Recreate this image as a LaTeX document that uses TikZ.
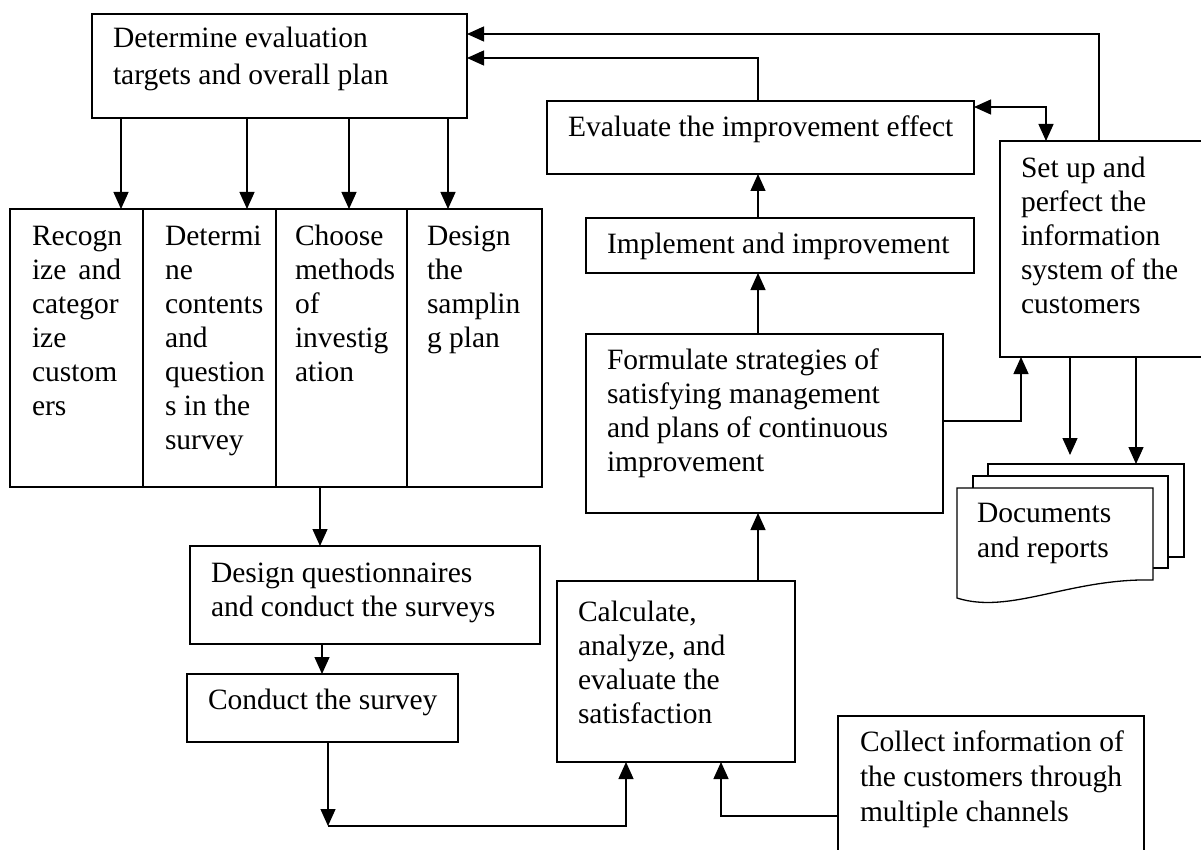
\documentclass[tikz,border=0pt]{standalone}
\usepackage{fontspec}
\setmainfont{Liberation Serif}
\usetikzlibrary{arrows.meta}
\begin{document}
\begin{tikzpicture}[x=1pt,y=-1pt,
  line width=1.3pt,
  box/.style={draw, line width=1.3pt, inner sep=0pt, outer sep=0pt, anchor=north west, fill=white},
  txt/.style={anchor=north west, inner sep=0pt, outer sep=0pt, align=left, font=\fontsize{29.5pt}{34pt}\selectfont},
  arr/.style={-{Triangle[length=17pt,width=15pt]}, line width=1.3pt},
  darr/.style={{Triangle[length=17pt,width=15pt]}-{Triangle[length=17pt,width=15pt]}, line width=1.3pt}]

\fill[white] (0,0) rectangle (1201,850);
\useasboundingbox (0,0) rectangle (1201,850);

% ---- planning stage ----
\node[box, minimum width=375, minimum height=104] (plan) at (92,14) {};
\node[txt, font=\fontsize{29.5pt}{37pt}\selectfont] (plantxt) at (113,22) {\strut Determine evaluation\\targets and overall plan};

\node[box, minimum width=133, minimum height=278] (recog) at (10,209) {};
\node[box, minimum width=133, minimum height=278] (contents) at (143,209) {};
\node[box, minimum width=131, minimum height=278] (choose) at (276,209) {};
\node[box, minimum width=135, minimum height=278] (sampling) at (407,209) {};
\node[txt] (recogtxt) at (32,222) {\strut Recogn\\\makebox[89pt][s]{ize and}\\categor\\ize\\custom\\ers};
\node[txt] (contentstxt) at (165,222) {\strut Determi\\ne\\contents\\and\\question\\s in the\\survey};
\node[txt] (choosetxt) at (295,222) {\strut Choose\\methods\\of\\investig\\ation};
\node[txt] (samplingtxt) at (427,222) {\strut Design\\the\\samplin\\g plan};

% ---- survey stage ----
\node[box, minimum width=350, minimum height=98] (quest) at (190,546) {};
\node[txt] (questtxt) at (211,559) {\strut Design questionnaires\\and conduct the surveys};
\node[box, minimum width=271, minimum height=68] (conduct) at (187,674) {};
\node[txt] (conducttxt) at (208,686) {\strut Conduct the survey};

% ---- analysis and improvement ----
\node[box, minimum width=238, minimum height=181] (calc) at (557,581) {};
\node[txt] (calctxt) at (578,598) {\strut Calculate,\\analyze, and\\evaluate the\\satisfaction};
\node[box, minimum width=306, minimum height=150] (collect) at (838,716) {};
\node[txt, font=\fontsize{29.5pt}{35pt}\selectfont] (collecttxt) at (860,727) {\strut Collect information of\\the customers through\\multiple channels};
\node[box, minimum width=357, minimum height=179] (formul) at (586,334) {};
\node[txt] (formultxt) at (607,346) {\strut Formulate strategies of\\satisfying management\\and plans of continuous\\improvement};
\node[box, minimum width=388, minimum height=55] (impl) at (586,218) {};
\node[txt] (impltxt) at (607,230) {\strut Implement and improvement};
\node[box, minimum width=427, minimum height=73] (eval) at (547,101) {};
\node[txt] (evaltxt) at (568,113) {\strut Evaluate the improvement effect};

% ---- information system and documents ----
\node[box, minimum width=205, minimum height=216] (setup) at (1000,141) {};
\node[txt] (setuptxt) at (1021,154) {\strut Set up and\\perfect the\\information\\system of the\\customers};
\node[box, minimum width=196, minimum height=93] (docback) at (988,464) {};
\node[box, minimum width=195, minimum height=92] (docmid) at (973,476) {};
\draw[fill=white, line width=1.3pt] (957,488) -- (1153,488) -- (1153,580)
  .. controls (1070,578) and (1010,615) .. (957,598) -- cycle;
\node[txt, font=\fontsize{29.5pt}{35pt}\selectfont] (doctxt) at (977,498) {\strut Documents\\and reports};

% ---- guide coordinates for connectors ----
\coordinate (ax1) at (121,0);
\coordinate (ax2) at (247,0);
\coordinate (ax3) at (349,0);
\coordinate (ax4) at (448,0);
\coordinate (qx) at (320,0);
\coordinate (qx2) at (322,0);
\coordinate (bx1) at (328,0);
\coordinate (bx2) at (626,0);
\coordinate (by) at (0,826);
\coordinate (cx3) at (721,0);
\coordinate (cy) at (0,816);
\coordinate (mx) at (758,0);
\coordinate (fb1) at (0,34);
\coordinate (fb2) at (0,58);
\coordinate (sx) at (1099,0);
\coordinate (dy) at (0,107);
\coordinate (dx) at (1046,0);
\coordinate (fy) at (0,421);
\coordinate (ux) at (1021,0);
\coordinate (dx1) at (1070,0);
\coordinate (dx2) at (1136,0);

% ---- connectors ----
\draw[arr] (ax1 |- plan.south) -- (ax1 |- recog.north);
\draw[arr] (ax2 |- plan.south) -- (ax2 |- contents.north);
\draw[arr] (ax3 |- plan.south) -- (ax3 |- choose.north);
\draw[arr] (ax4 |- plan.south) -- (ax4 |- sampling.north);

\draw[arr] (qx |- choose.south) -- (qx |- quest.north);
\draw[arr] (qx2 |- quest.south) -- (qx2 |- conduct.north);
\draw[arr] (bx1 |- conduct.south) -- (bx1 |- by);
\draw[arr] (bx1 |- by) -- (bx2 |- by) -- (bx2 |- calc.south);
\draw[arr] (collect.west |- cy) -- (cx3 |- cy) -- (cx3 |- calc.south);

\draw[arr] (mx |- calc.north) -- (mx |- formul.south);
\draw[arr] (mx |- formul.north) -- (mx |- impl.south);
\draw[arr] (mx |- impl.north) -- (mx |- eval.south);
\draw[arr] (mx |- eval.north) -- (mx |- fb2) -- (fb2 -| plan.east);
\draw[arr] (sx |- setup.north) -- (sx |- fb1) -- (fb1 -| plan.east);
\draw[darr] (eval.east |- dy) -- (dx |- dy) -- (dx |- setup.north);
\draw[arr] (formul.east |- fy) -- (ux |- fy) -- (ux |- setup.south);
\draw[arr, shorten >=9pt] (dx1 |- setup.south) -- (dx1 |- docback.north);
\draw[arr] (dx2 |- setup.south) -- (dx2 |- docback.north);
\end{tikzpicture}
\end{document}
